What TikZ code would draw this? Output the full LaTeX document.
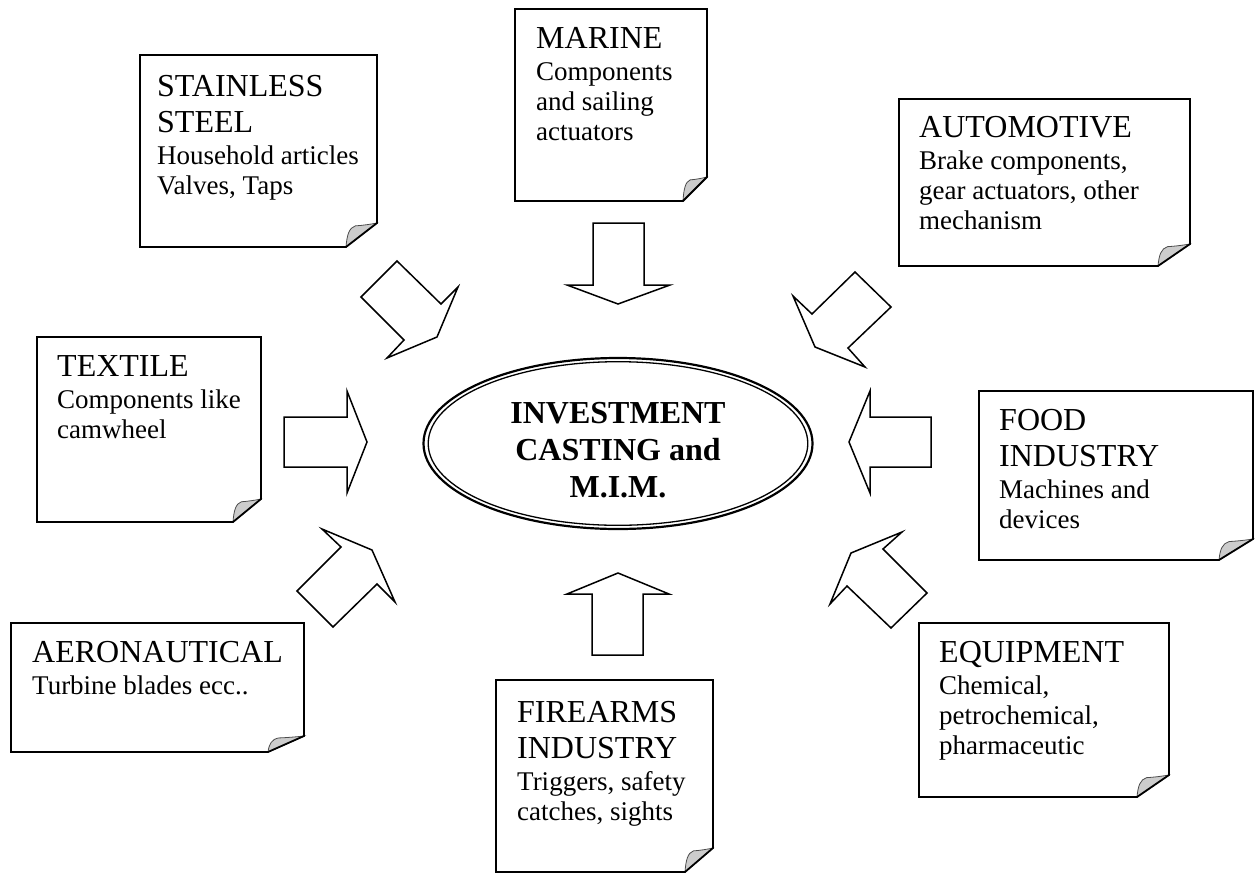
\documentclass[tikz,border=0pt]{standalone}
\usepackage{fontspec}
\setmainfont{Liberation Serif}
\usetikzlibrary{shapes.geometric}
\newcommand\hd{\fontsize{32}{36}\selectfont}
\newcommand\notebox[6]{%
  \filldraw[foldshade] (#3-#5,#4) .. controls (#3-0.97*#5,#4-0.5*#6) and (#3-0.9*#5,#4-0.8*#6) .. (#3-0.7*#5,#4-0.88*#6) .. controls (#3-0.45*#5,#4-0.9*#6) and (#3-0.2*#5,#4-0.95*#6) .. (#3,#4-#6) -- cycle;
  \draw[boxline] (#1,#2) -- (#3,#2) -- (#3,#4-#6) -- (#3-#5,#4) -- (#1,#4) -- cycle;
}
\begin{document}
\begin{tikzpicture}[x=1pt,y=-1pt,
  boxline/.style={draw=black,line width=1.8pt,line join=miter},
  foldshade/.style={fill=black!20,draw=black!70,line width=0.8pt},
  notetext/.style={anchor=north west,inner sep=0pt,align=left,font=\fontsize{27}{30}\selectfont},
  blockarrow/.style={draw=black,fill=white,line width=1.5pt,line join=miter},
  core/.style={ellipse,draw=black,line width=2.2pt,minimum width=389pt,minimum height=171pt,inner sep=0pt},
  coreinner/.style={draw=black,line width=1.3pt},
  coretext/.style={inner sep=0pt,align=center,font=\bfseries\fontsize{32}{37}\selectfont}]
\useasboundingbox (0,0) rectangle (1258,873);
\fill[white] (0,0) rectangle (1258,873);

% note boxes
\notebox{140}{55}{377}{247}{31}{24}
\notebox{515}{9}{707}{201}{24}{24}
\notebox{899}{99}{1190}{266}{32}{22}
\notebox{37}{337}{261}{522}{28}{23}
\notebox{979}{391}{1253}{560}{34}{21}
\notebox{11}{623}{304}{752}{36}{16}
\notebox{496}{680}{713}{872}{28}{24}
\notebox{919}{623}{1169}{797}{32}{22}

\node[notetext] (stainless) at (157,75) {{\hd STAINLESS}\\[6pt]{\hd STEEL}\\[2pt]Household articles\\Valves, Taps};
\node[notetext] (marine) at (536,27) {{\hd MARINE}\\[2pt]Components\\and sailing\\actuators};
\node[notetext] (automotive) at (919,116) {{\hd AUTOMOTIVE}\\[2pt]Brake components,\\gear actuators, other\\mechanism};
\node[notetext] (textile) at (57,355) {{\hd TEXTILE}\\[2pt]Components like\\camwheel};
\node[notetext] (food) at (999,409) {{\hd FOOD}\\[6pt]{\hd INDUSTRY}\\[2pt]Machines and\\devices};
\node[notetext] (aero) at (32,641) {{\hd AERONAUTICAL}\\[2pt]Turbine blades ecc..};
\node[notetext] (firearms) at (517,701) {{\hd FIREARMS}\\[6pt]{\hd INDUSTRY}\\[2pt]Triggers, safety\\catches, sights};
\node[notetext] (equipment) at (939,641) {{\hd EQUIPMENT}\\[2pt]Chemical,\\petrochemical,\\pharmaceutic};

% block arrows
\draw[blockarrow] (593,223) -- (644,223) -- (644,285) -- (670,285) -- (618,304) -- (567,285) -- (593,285) -- cycle;
\draw[blockarrow] (592,655) -- (643,655) -- (643,594) -- (669,594) -- (618,573) -- (567,594) -- (592,594) -- cycle;
\draw[blockarrow] (284,417) -- (347,417) -- (347,391) -- (367,442) -- (347,493) -- (347,467) -- (284,467) -- cycle;
\draw[blockarrow] (931,417) -- (870,417) -- (870,391) -- (849,442) -- (870,493) -- (870,467) -- (931,467) -- cycle;
\draw[blockarrow] (361,297) -- (397,261) -- (441,304) -- (458,287) -- (437,337) -- (387,358) -- (404,340) -- cycle;
\draw[blockarrow] (855,272) -- (891,307) -- (848,348) -- (865,367) -- (815,347) -- (793,296) -- (812,314) -- cycle;
\draw[blockarrow] (297,591) -- (341,547) -- (322,529) -- (372,550) -- (395,602) -- (377,584) -- (333,627) -- cycle;
\draw[blockarrow] (851,553) -- (902,532) -- (883,549) -- (927,593) -- (891,628) -- (847,586) -- (830,604) -- cycle;

% centre
\node[core] (core) at (618,443.5) {};
\draw[coreinner] (core.center) ellipse [x radius=189.8, y radius=81.8];
\node[coretext] (coretitle) at (618,450.5) {INVESTMENT\\CASTING and\\M.I.M.};
\end{tikzpicture}
\end{document}
